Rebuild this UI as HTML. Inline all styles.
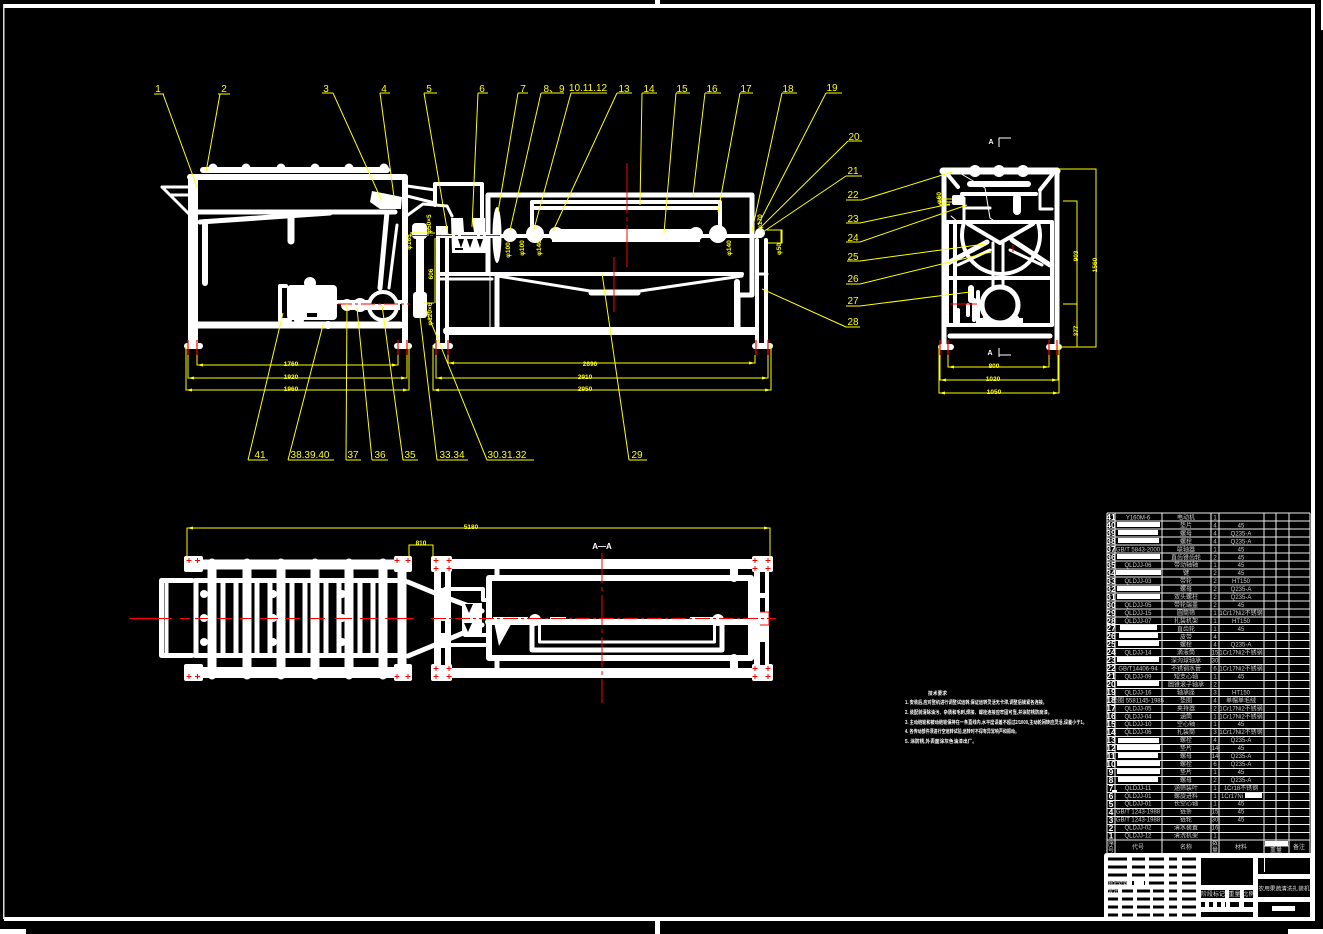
<!DOCTYPE html>
<html><head><meta charset="utf-8"><style>
html,body{margin:0;padding:0;background:#000;width:1323px;height:934px;overflow:hidden}
svg{display:block}
text{font-family:"Liberation Sans","Noto Sans CJK SC",sans-serif}
.w{stroke:#fff;fill:none;stroke-linecap:round;stroke-linejoin:round}
.y{stroke:#ff0;fill:none;stroke-width:1}
.r{stroke:#f00;fill:none;stroke-width:1}
.l text{fill:#ff0;font-size:10px;text-anchor:middle}
.d text{fill:#ff0;font-size:6.5px;font-weight:bold;text-anchor:middle}
.t text{fill:#ccc;font-size:6px;text-anchor:middle}
.n text{fill:#fff;font-size:8.5px;font-weight:bold;text-anchor:middle}
</style></head><body>
<svg width="1323" height="934" viewBox="0 0 1323 934" xmlns="http://www.w3.org/2000/svg">
<rect width="1323" height="934" fill="#000"/>
<!-- sheet border -->
<path d="M4 6H1313V919H4" fill="none" stroke="#fff" stroke-width="4"/>
<rect x="3" y="4" width="1.5" height="915" fill="#ddd"/>
<rect x="655" y="0" width="5" height="6" fill="#fff"/>
<rect x="655" y="921" width="5" height="13" fill="#fff"/>
<rect x="0" y="929" width="26" height="5" fill="#fff"/>
<rect x="1288" y="929" width="35" height="5" fill="#fff"/>
<rect x="1321" y="0" width="2" height="30" fill="#fff"/>

<!-- LEFT FRONT VIEW -->
<g class="w" stroke-width="5">
<path d="M193 178V345" stroke-width="10" stroke-linecap="butt"/>
<path d="M190 177H405V345" stroke-width="6"/>
<path d="M203 170H387" stroke-width="6"/>
<path d="M162 187H190M162 187L172 197L190 215M170 195H190" stroke-width="3"/>
<path d="M196 212H395" stroke-width="5"/>
<path d="M200 222L330 213" stroke-width="5"/>
<path d="M205 222V283" stroke-width="6"/>
<path d="M291 213V241" stroke-width="7"/>
<path d="M196 325H400" stroke-width="7"/>
<path d="M387 212L380 288" stroke-width="5"/>
<path d="M397 225L389 288" stroke-width="3"/>
<path d="M286 286H280V320H290" stroke-width="4"/>
<path d="M407 186L435 190M407 196L435 203M405 217L423 204L447 206L452 216" stroke-width="3"/>
<path d="M403 230V330" stroke-width="1.5"/>
<path d="M420 238V295" stroke-width="8" stroke-linecap="butt"/>
</g>
<g fill="#fff">
<circle cx="213" cy="168" r="4.5"/><circle cx="246" cy="168" r="4.5"/><circle cx="281" cy="168" r="4.5"/><circle cx="315" cy="168" r="4.5"/><circle cx="349" cy="168" r="4.5"/><circle cx="384" cy="168" r="4.5"/>
<rect x="287" y="285" width="50" height="35" rx="4"/>
<circle cx="310" cy="283" r="6"/><circle cx="299" cy="320" r="5"/><circle cx="328" cy="325" r="4"/>
<circle cx="347" cy="305" r="6"/><circle cx="360" cy="305" r="7"/>
<rect x="335" y="300" width="70" height="4"/>
<rect x="345" y="305" width="50" height="5"/>
<path d="M372 191L402 197L401 209L380 209L370 202Z"/>
<rect x="184" y="343" width="19" height="6" rx="3"/>
<rect x="394" y="343" width="18" height="6" rx="3"/>
<rect x="412" y="223" width="15" height="16" rx="4"/>
<rect x="413" y="292" width="14" height="26" rx="3"/>
</g>
<circle cx="383" cy="306" r="14" fill="#000" stroke="#fff" stroke-width="4"/>
<rect x="365" y="304" width="35" height="6" fill="#fff"/>
<rect x="307" y="313" width="10" height="4" fill="#000"/>

<!-- RIGHT FRONT VIEW -->
<g class="w">
<path d="M488 273V195H752V295H738V330" stroke-width="5"/>
<path d="M532 232V202H720V232" stroke-width="4"/>
<path d="M532 208H720" stroke-width="4"/>
<path d="M435 205V184H482V222" stroke-width="4"/>
<path d="M438 235V345M447 235V345" stroke-width="4"/>
<path d="M757 240V345M766 240V345" stroke-width="4"/>
<path d="M447 331H755" stroke-width="8"/>
<path d="M440 274H742" stroke-width="4"/>
<path d="M440 279H492M757 274H767" stroke-width="3"/>
<path d="M498 276L590 291H640L742 276" stroke-width="3"/>
<path d="M591 293H638" stroke-width="5"/>
<path d="M497 276V330" stroke-width="5"/>
<path d="M737 282V330" stroke-width="6"/>
<path d="M490 276V330" stroke-width="1"/>
<path d="M441 236H760" stroke-width="4"/>
</g>
<g fill="#fff">
<path d="M451 218H463L464 232H487V253H452Z"/>
<path d="M472 218H485V232H474Z"/>
<rect x="552" y="229" width="148" height="13"/>
<circle cx="535" cy="234" r="9"/><circle cx="718" cy="234" r="9"/>
<circle cx="556" cy="234" r="7"/><circle cx="696" cy="234" r="7"/>
<ellipse cx="497" cy="235" rx="4.5" ry="28"/>
<circle cx="510" cy="235" r="7"/>
<circle cx="760" cy="233" r="5"/>
<rect x="433" y="343" width="20" height="6" rx="3"/>
<rect x="752" y="343" width="21" height="6" rx="3"/>
<rect x="436" y="226" width="12" height="8"/>
</g>
<g fill="#000">
<path d="M458 239H464L461 248ZM467 239H473L470 248ZM477 239H483L480 248Z"/>
<rect x="455" y="248" width="8" height="2"/>
</g>

<!-- SIDE VIEW -->
<g class="w">
<path d="M944 170V345M1057 170V345" stroke-width="5"/>
<path d="M943 171H1057" stroke-width="7"/>
<path d="M950 336H1050" stroke-width="5"/>
<path d="M947 222H1052V325H947Z" stroke-width="4"/>
<path d="M947 278H1052" stroke-width="4"/>
<path d="M970 184H1028" stroke-width="6"/>
<path d="M948 175L958 187M1052 175L1040 190" stroke-width="4"/>
<path d="M962 194H1036" stroke-width="4"/>
<path d="M964 198V222M964 208H990" stroke-width="3"/>
<path d="M1017 198V211" stroke-width="8"/>
<path d="M1040 190V209H1052" stroke-width="3"/>
<path d="M958 172L985 188L990 218L993 220" stroke-width="1"/>
<path d="M963.600 224A39 39 0 1 0 1038.400 224" stroke-width="4"/>
<path d="M968 224L1000 243L1033 224" stroke-width="4"/>
<path d="M948 263L987 242M1050 265L1012 240" stroke-width="5"/>
<path d="M958 265L990 250M1042 265L1010 250" stroke-width="3"/>
<path d="M993 243V290M1003 243V290" stroke-width="3"/>
<path d="M955 225V322" stroke-width="4"/>
<path d="M971 288V300" stroke-width="6"/>
<path d="M968 305V315M974 300V320M958 310V322M978 292V324" stroke-width="4"/>
<path d="M951 216L958 222" stroke-width="1"/>
</g>
<g fill="#fff">
<circle cx="975" cy="171" r="6"/><circle cx="999" cy="171" r="6"/><circle cx="1023" cy="171" r="6"/>
<rect x="938" y="344" width="16" height="6" rx="3"/>
<rect x="1046" y="344" width="16" height="6" rx="3"/>
<rect x="952" y="195" width="12" height="10" rx="2"/>
<rect x="978" y="318" width="45" height="6"/>
<path d="M984 316L1018 316L1024 324H978Z"/>
</g>
<circle cx="1000" cy="305" r="18" fill="#000" stroke="#fff" stroke-width="5"/>

<!-- PLAN LEFT -->
<g class="w">
<path d="M190 564.500H405" stroke-width="10" stroke-linecap="butt"/>
<path d="M190 672.500H405" stroke-width="11" stroke-linecap="butt"/>
<path d="M195 580.500H405" stroke-width="5"/>
<path d="M195 655.500H405" stroke-width="5"/>
<path d="M192 580.500H161.500V655.500H192" stroke-width="5"/>
<path d="M166.500 582V654" stroke-width="4"/>
<path d="M212 563V675M247 563V675M281 563V675M315 563V675M349 563V675M383 563V675" stroke-width="9"/>
<path d="M196 582V654M223 582V654M236 582V654M257 582V654M270 582V654M292 582V654M305 582V654M326 582V654M339 582V654M360 582V654M373 582V654" stroke-width="5"/>
<path d="M402 566V672" stroke-width="9" stroke-linecap="butt"/>
<path d="M408 582L442 596L482 611M408 656L442 642L482 625" stroke-width="5"/>
</g>
<g fill="#fff">
<circle cx="204" cy="594" r="4"/><circle cx="204" cy="618" r="4"/><circle cx="204" cy="642" r="4"/>
<circle cx="273" cy="594" r="4"/><circle cx="273" cy="618" r="4"/><circle cx="273" cy="642" r="4"/>
<circle cx="342" cy="594" r="4"/><circle cx="342" cy="618" r="4"/><circle cx="342" cy="642" r="4"/>
<rect x="184" y="556" width="19" height="16" rx="2"/><rect x="184" y="664" width="19" height="17" rx="2"/>
<rect x="394" y="556" width="18" height="16" rx="2"/><rect x="394" y="664" width="18" height="17" rx="2"/>
<rect x="431" y="556" width="21" height="16" rx="2"/><rect x="431" y="664" width="21" height="17" rx="2"/>
<rect x="752" y="556" width="21" height="16" rx="2"/><rect x="752" y="664" width="21" height="17" rx="2"/>
<rect x="434" y="570" width="17" height="96"/>
<rect x="754" y="570" width="15" height="96"/>
</g>
<g fill="#000">
<rect x="441" y="572" width="4" height="16"/><rect x="441" y="621" width="4" height="12"/><rect x="441" y="648" width="4" height="17"/>
<rect x="760" y="572" width="5" height="21"/><rect x="760" y="598" width="5" height="14"/><rect x="760" y="642" width="5" height="23"/>
</g>
<!-- PLAN RIGHT -->
<g class="w">
<path d="M450 564H755" stroke-width="10" stroke-linecap="butt"/>
<path d="M450 673H755" stroke-width="10" stroke-linecap="butt"/>
<path d="M489 578H751V658H489Z" stroke-width="6"/>
<path d="M497 566V578M497 658V670" stroke-width="5"/>
<path d="M734 566V578M734 658V670" stroke-width="8"/>
<path d="M488 622H758" stroke-width="6"/>
<path d="M532 622V650H722V622" stroke-width="5"/>
<path d="M539.500 622V642H714.500V622" stroke-width="3"/>
<path d="M445 589H483V600H489M465 635H488M445 645H488" stroke-width="4"/>
</g>
<path d="M462 603H482V633H462Z" fill="#fff"/>
<path d="M465 604H473L469 613ZM464 623H472L468 632Z" fill="#000"/>
<g fill="#fff">
<path d="M493 617H515L499 646Z"/>
<circle cx="535" cy="620" r="6"/><circle cx="718" cy="620" r="6"/>
<rect x="508" y="617" width="20" height="5"/>
<rect x="550" y="617" width="16" height="5"/>
<rect x="690" y="617" width="30" height="5"/>
</g>
<path d="M760 612H769V625H760" fill="none" stroke="#f00" stroke-width="1"/>

<!-- RED -->
<g class="r" stroke-width="1">
<path d="M129 618.500H172M180 618.500H190M195 618.500H208M217 618.500H232M240 618.500H252M260 618.500H278M285 618.500H300M310 618.500H325M335 618.500H352M360 618.500H378M385 618.500H414"/>
<path d="M431 618.500H776" stroke-dasharray="15 3 3 3"/>
<path d="M602 553V703" stroke-dasharray="30 4 4 4"/>
<path d="M627 163V267" stroke-dasharray="50 4 4 4"/>
<path d="M614 257V312"/>
<path d="M338 304H410" stroke-dasharray="14 3 3 3"/>
<path d="M411 235.500H500" stroke-dasharray="16 3 3 3"/>
<path d="M188 340V355M197 340V355M398 340V355M407 340V355M436 340V355M448 340V355M756 340V355M768 340V355M940 340V355M948 340V355M1049 340V355M1057 340V355" stroke-width="1.200"/>
<path d="M950 304H977M1013 245V252"/>
<path d="M189 558V563M186.500 560.500H191.500M197.500 558V563M195 560.500H200M397 558V563M394.500 560.500H399.500M408 558V563M405.500 560.500H410.500M189 674V679M186.500 676.500H191.500M197.500 674V679M195 676.500H200M397 674V679M394.500 676.500H399.500M408 674V679M405.500 676.500H410.500M436 558V563M433.500 560.500H438.500M449 558V563M446.500 560.500H451.500M436 566V571M433.500 568.500H438.500M449 566V571M446.500 568.500H451.500M436 666V671M433.500 668.500H438.500M449 666V671M446.500 668.500H451.500M436 674V679M433.500 676.500H438.500M449 674V679M446.500 676.500H451.500M755 558V563M752.500 560.500H757.500M768 558V563M765.500 560.500H770.500M755 566V571M752.500 568.500H757.500M768 566V571M765.500 568.500H770.500M755 666V671M752.500 668.500H757.500M768 666V671M765.500 668.500H770.500M755 674V679M752.500 676.500H757.500M768 674V679M765.500 676.500H770.500"/>
</g>

<!-- YELLOW LEADERS -->
<g class="y">
<path d="M154 94H164M163 94L197 187"/>
<path d="M218 94H230M220 94L206 172"/>
<path d="M322 93H333M333 93L381 199"/>
<path d="M380 93H390M380 93L394 197"/>
<path d="M424 93H437M424 93L448 235"/>
<path d="M478 93H488M478 93L472 227"/>
<path d="M518 93H528M518 93L498 212"/>
<path d="M541 93H564M541 93L510 230"/>
<path d="M571 93H607M571 93L534 229"/>
<path d="M617 93H632M617 93L553 231"/>
<path d="M642 93H657M642 93L640 205"/>
<path d="M676 93H690M676 93L664 233"/>
<path d="M705 93H721M705 93L693 195"/>
<path d="M740 93H753M740 93L718 212"/>
<path d="M782 93H797M782 93L752 231"/>
<path d="M826 93H842M826 93L758 225"/>
<path d="M848 141H862M848 141L760 228"/>
<path d="M846 176H862M846 176L763 232"/>
<path d="M846 200H862M862 200L952 172"/>
<path d="M846 223H860M860 223L950 204"/>
<path d="M846 242H860M860 242L967 205"/>
<path d="M847 261H860M860 261L985 244"/>
<path d="M846 284H860M860 284L991 252"/>
<path d="M846 306H860M860 306L970 292"/>
<path d="M846 327H860M846 327L762 289"/>
<path d="M248 460H268M248 460L283 313"/>
<path d="M288 460H334M288 460L323 325"/>
<path d="M346 460H361M346 460L347 304"/>
<path d="M372 460H388M372 460L357 308"/>
<path d="M403 460H418M403 460L382 305"/>
<path d="M437 460H468M437 460L420 317"/>
<path d="M487 460H534M487 460L426 310"/>
<path d="M629 460H647M629 460L602 273"/>
<!-- dims -->
<path d="M197 355V365H398V355M188 355V378H407V355M186 345V390H409V345"/>
<path d="M448 355V363H755V355M436 355V378H768V355M433 345V390H771V345"/>
<path d="M948 355V367H1049V355M940 355V380H1058V355M939 345V393H1059V345"/>
<path d="M1058 169H1096V347H1060M1063 201H1077V347M1063 304H1077"/>
<path d="M187 557V528H770V557M409 557V545H433V557"/>
<path d="M411 233H435M411 236V232M428 236V228M424 303H434M435 238V303"/>
<path d="M767 230H782V243H768M781 230V243"/>
<path d="M940 199V205H950M940 205V197M941 199H952M941 202H952"/>
</g>
<path d="M197 365l6-1.500v3zM398 365l-6-1.500v3zM188 378l6-1.500v3zM407 378l-6-1.500v3zM186 390l6-1.500v3zM409 390l-6-1.500v3zM448 363l6-1.500v3zM755 363l-6-1.500v3zM436 378l6-1.500v3zM768 378l-6-1.500v3zM433 390l6-1.500v3zM771 390l-6-1.500v3zM948 367l6-1.500v3zM1049 367l-6-1.500v3zM940 380l6-1.500v3zM1058 380l-6-1.500v3zM939 393l6-1.500v3zM1059 393l-6-1.500v3zM187 528l6-1.500v3zM770 528l-6-1.500v3z" fill="#ff0"/>
<g class="l">
<text x="158" y="92">1</text><text x="224" y="92">2</text><text x="326" y="92">3</text><text x="384" y="92">4</text><text x="429" y="92">5</text><text x="482" y="92">6</text><text x="523" y="92">7</text><text x="554" y="92">8、9</text><text x="588" y="91" font-size="9.5">10.11.12</text><text x="624" y="92">13</text><text x="649" y="92">14</text><text x="682" y="92">15</text><text x="712" y="92">16</text><text x="746" y="92">17</text><text x="788" y="92">18</text><text x="832" y="91">19</text>
<text x="854" y="140">20</text><text x="853" y="174">21</text><text x="853" y="198">22</text><text x="853" y="222">23</text><text x="853" y="241">24</text><text x="853" y="260">25</text><text x="853" y="282">26</text><text x="853" y="304">27</text><text x="853" y="325">28</text>
<text x="260" y="458">41</text><text x="310" y="458">38.39.40</text><text x="353" y="458">37</text><text x="380" y="458">36</text><text x="410" y="458">35</text><text x="452" y="458">33.34</text><text x="507" y="458">30.31.32</text><text x="637" y="458">29</text>
</g>
<g class="d">
<text x="291" y="366">1760</text><text x="291" y="379">1920</text><text x="291" y="391">1960</text>
<text x="590" y="366">2690</text><text x="585" y="379">2910</text><text x="585" y="391">2950</text>
<text x="994" y="368">800</text><text x="993" y="381">1020</text><text x="994" y="394">1050</text>
<text x="471" y="529">5180</text><text x="421" y="545">810</text>
<text transform="translate(1097,265) rotate(-90)">1560</text>
<text transform="translate(1078,256) rotate(-90)">903</text>
<text transform="translate(1078,331) rotate(-90)">377</text>
<text transform="translate(433,274) rotate(-90)" font-size="6">606</text>
<text transform="translate(411,242) rotate(-90)" font-size="5">φ165</text>
<text transform="translate(431,224) rotate(-90)" font-size="5">φ50×5</text>
<text transform="translate(432,314) rotate(-90)" font-size="5">φ120×6</text>
<text transform="translate(510,250) rotate(-90)" font-size="5">φ100</text>
<text transform="translate(524,248) rotate(-90)" font-size="5">φ100</text>
<text transform="translate(541,248) rotate(-90)" font-size="5">φ140</text>
<text transform="translate(731,248) rotate(-90)" font-size="5">φ140</text>
<text transform="translate(762,222) rotate(-90)" font-size="5">φ170</text>
<text transform="translate(781,249) rotate(-90)" font-size="5">φ50</text>
<text transform="translate(941,198) rotate(-90)" font-size="5">φ60</text>
</g>
<g fill="#fff" font-size="7" font-weight="bold" text-anchor="middle">
<text x="991" y="144">A</text><text x="990" y="355">A</text><text x="602" y="549" font-size="8">A—A</text>
</g>
<path d="M999 147V138H1011M999 357V348M999 355H1011" stroke="#fff" fill="none"/>

<!-- NOTES -->
<g fill="#fff" font-size="5.3" font-weight="bold">
<text x="928" y="695" textLength="19" lengthAdjust="spacingAndGlyphs">技术要求</text>
<text x="905" y="704" textLength="142" lengthAdjust="spacingAndGlyphs">1. 安装后,应对整机进行调整试运转,保证运转灵活无卡滞,调整后锁紧各连接。</text>
<text x="905" y="714" textLength="147" lengthAdjust="spacingAndGlyphs">2. 装配前清除油污、杂质和毛刺,焊接、螺栓连接应牢固可靠,并涂防锈防腐漆。</text>
<text x="905" y="724" textLength="182" lengthAdjust="spacingAndGlyphs">3. 主动链轮和被动链轮保持在一条直线内,水平度误差不超过2/1000,主动轮回转应灵活,误差小于1。</text>
<text x="905" y="733" textLength="114" lengthAdjust="spacingAndGlyphs">4. 各传动部件须进行空运转试验,运转时不得有异常响声和振动。</text>
<text x="905" y="743" textLength="72" lengthAdjust="spacingAndGlyphs">5. 涂防锈,外表面涂灰色油漆出厂。</text>
</g>

<!-- PARTS TABLE -->
<path d="M1107 513H1310M1107 521H1310M1107 529H1310M1107 537H1310M1107 545H1310M1107 553H1310M1107 561H1310M1107 569H1310M1107 577H1310M1107 585H1310M1107 593H1310M1107 601H1310M1107 609H1310M1107 617H1310M1107 624.500H1310M1107 632.500H1310M1107 640.500H1310M1107 648.500H1310M1107 656.500H1310M1107 664.500H1310M1107 672.500H1310M1107 680.500H1310M1107 688.500H1310M1107 696.500H1310M1107 704.500H1310M1107 712.500H1310M1107 720.500H1310M1107 728.500H1310M1107 736.500H1310M1107 744.500H1310M1107 752.500H1310M1107 760.500H1310M1107 768.500H1310M1107 776.500H1310M1107 784.500H1310M1107 792.500H1310M1107 800.500H1310M1107 808.500H1310M1107 816.500H1310M1107 824.500H1310M1107 832.500H1310M1107 840H1310" stroke="#eee" stroke-width="1" fill="none"/>
<path d="M1107 513V853M1115 513V853M1162 513V853M1211 513V853M1219 513V853M1264 513V853M1276 513V846M1289 513V853M1310 513V853M1264 846H1289" stroke="#eee" stroke-width="1" fill="none"/>
<g fill="#fff">
<rect x="1117" y="522" width="43" height="5"/><rect x="1118" y="530" width="40" height="5"/><rect x="1118" y="538" width="41" height="5"/>
<rect x="1117" y="554" width="43" height="5"/><rect x="1116" y="570" width="45" height="5"/><rect x="1117" y="586" width="43" height="5"/><rect x="1117" y="594" width="43" height="5"/>
<rect x="1120" y="625" width="37" height="5"/><rect x="1119" y="633" width="39" height="5"/><rect x="1118" y="641" width="41" height="5"/><rect x="1117" y="657" width="42" height="5"/><rect x="1117" y="681" width="42" height="5"/>
<rect x="1118" y="738" width="41" height="5"/><rect x="1117" y="745" width="43" height="5"/><rect x="1118" y="753" width="40" height="5"/><rect x="1117" y="761" width="43" height="5"/><rect x="1117" y="769" width="43" height="5"/><rect x="1118" y="777" width="40" height="5"/>
<rect x="1245" y="793" width="17" height="5"/>
<rect x="1265" y="841" width="23" height="5"/>
<rect x="1112" y="790" width="5" height="2"/>
</g>
<g class="n"><g transform="translate(1111,0)">
<text y="520">41</text><text y="528">40</text><text y="536">39</text><text y="544">38</text><text y="552">37</text><text y="560">36</text><text y="568">35</text><text y="576">34</text><text y="584">33</text><text y="592">32</text><text y="600">31</text><text y="608">30</text><text y="616">29</text><text y="624">28</text><text y="631">27</text><text y="639">26</text><text y="647">25</text><text y="655">24</text><text y="663">23</text><text y="671">22</text><text y="679">21</text><text y="687">20</text><text y="695">19</text><text y="703">18</text><text y="711">17</text><text y="719">16</text><text y="727">15</text><text y="735">14</text><text y="743">13</text><text y="751">12</text><text y="759">11</text><text y="767">10</text><text y="775">9</text><text y="783">8</text><text y="791">7</text><text y="799">6</text><text y="807">5</text><text y="815">4</text><text y="823">3</text><text y="831">2</text><text y="838.500">1</text>
</g></g>
<g class="t">
<g transform="translate(1138,0)">
<text y="519.500">Y160M-6</text><text y="551.300" font-size="5">GB/T 5843-2000</text><text y="567.200">QLDJJ-06</text><text y="583.100">QLDJJ-03</text><text y="607">QLDJJ-05</text><text y="614.900">QLDJJ-15</text><text y="622.900">QLDJJ-07</text><text y="654.700">QLDJJ-14</text><text y="670.600" font-size="5">GB/T14406-94</text><text y="678.500">QLDJJ-09</text><text y="694.400">QLDJJ-16</text><text y="702.400" font-size="5">垫圈 5581145-1985</text><text y="710.300">QLDJJ-05</text><text y="718.300">QLDJJ-04</text><text y="726.200">QLDJJ-10</text><text y="734.200">QLDJJ-06</text><text y="789.800">QLDJJ-11</text><text y="797.800">QLDJJ-01</text><text y="805.700">QLDJJ-01</text><text y="813.700" font-size="5">GB/T 1243-1988</text><text y="821.600" font-size="5">GB/T 1243-1988</text><text y="829.600">QLDJJ-02</text><text y="837.500">QLDJJ-12</text>
<text y="849">代号</text>
</g>
<g transform="translate(1186,0)">
<text y="519.500">电动机</text><text y="527.500">垫片</text><text y="535.400">螺母</text><text y="543.400">螺栓</text><text y="551.300">联轴器</text><text y="559.300">直齿锥齿轮</text><text y="567.200">带动轴轴</text><text y="575.200">键</text><text y="583.100">带轮</text><text y="591.100">螺母</text><text y="599">双头螺柱</text><text y="607">带轮端盖</text><text y="614.900">圆筒筛</text><text y="622.900">扎装机架</text><text y="630.800">直齿轮</text><text y="638.800">皮带</text><text y="646.700">螺栓</text><text y="654.700">滴液筒</text><text y="662.600">深沟球轴承</text><text y="670.600">不锈钢水管</text><text y="678.500">短支心轴</text><text y="686.500">圆锥滚子轴承</text><text y="694.400">轴承座</text><text y="702.400">垫圈</text><text y="710.300">夹持器</text><text y="718.300">涵筒</text><text y="726.200">空心轴</text><text y="734.200">扎装筒</text><text y="742.100">螺栓</text><text y="750.100">垫片</text><text y="758">螺母</text><text y="766">螺栓</text><text y="773.900">垫片</text><text y="781.900">螺母</text><text y="789.800">涵筛装叶</text><text y="797.800">螺旋进料</text><text y="805.700">长空心轴</text><text y="813.700">链条</text><text y="821.600">链轮</text><text y="829.600">清水装置</text><text y="837.500">清洗机架</text>
<text y="849">名称</text>
</g>
<g transform="translate(1215,0)">
<text y="519.500">1</text><text y="527.500">4</text><text y="535.400">4</text><text y="543.400">4</text><text y="551.300">1</text><text y="559.300">2</text><text y="567.200">1</text><text y="575.200">2</text><text y="583.100">2</text><text y="591.100">2</text><text y="599">2</text><text y="607">2</text><text y="614.900">1</text><text y="622.900">1</text><text y="630.800">1</text><text y="638.800">4</text><text y="646.700">4</text><text y="654.700">15</text><text y="662.600">30</text><text y="670.600">6</text><text y="678.500">1</text><text y="686.500">2</text><text y="694.400">3</text><text y="702.400">4</text><text y="710.300">2</text><text y="718.300">1</text><text y="726.200">1</text><text y="734.200">3</text><text y="742.100">4</text><text y="750.100">14</text><text y="758">14</text><text y="766">6</text><text y="773.900">1</text><text y="781.900">2</text><text y="789.800">1</text><text y="797.800">1</text><text y="805.700">1</text><text y="813.700">15</text><text y="821.600">30</text><text y="829.600">16</text><text y="837.500">1</text>
<text y="845">数</text><text y="852">量</text>
</g>
<g transform="translate(1241,0)">
<text y="527.500">45</text><text y="535.400">Q235-A</text><text y="543.400">Q235-A</text><text y="551.300">45</text><text y="559.300">45</text><text y="567.200">45</text><text y="575.200">45</text><text y="583.100">HT150</text><text y="591.100">Q235-A</text><text y="599">Q235-A</text><text y="607">45</text><text y="614.900">1Cr17Ni2不锈钢</text><text y="622.900">HT150</text><text y="630.800">45</text><text y="646.700">Q235-A</text><text y="654.700">1Cr17Ni2不锈钢</text><text y="670.600">1Cr17Ni2不锈钢</text><text y="678.500">45</text><text y="694.400">HT150</text><text y="702.400">单帽单毛绒</text><text y="710.300">1Cr17Ni2不锈钢</text><text y="718.300">1Cr17Ni2不锈钢</text><text y="726.200">45</text><text y="734.200">1Cr17Ni2不锈钢</text><text y="742.100">Q235-A</text><text y="750.100">45</text><text y="758">Q235-A</text><text y="766">Q235-A</text><text y="773.900">45</text><text y="781.900">Q235-A</text><text y="789.800">1Cr18不锈钢</text><text y="797.800" x="-9">1Cr17Ni</text><text y="805.700">45</text><text y="813.700">45</text><text y="821.600">45</text>
<text y="849">材料</text>
</g>
<text x="1111" y="846">序</text><text x="1111" y="852">号</text>
<text x="1276" y="852">重量</text><text x="1299" y="849">备注</text>
</g>

<!-- TITLE BLOCK -->
<path d="M1107 853H1313Q1315 853 1315 855V918Q1315 921 1312 921H1107Q1104 921 1104 918V856Q1104 853 1107 853Z" fill="#fff"/>
<g fill="#000">
<path d="M1108 857.500H1127V860.500H1108ZM1132 857.500H1145V860.500H1132ZM1149 857.500H1164V860.500H1149ZM1169 857.500H1177V860.500H1169ZM1182 857.500H1196V860.500H1182Z"/>
<path d="M1108 865.500H1127V868.500H1108ZM1132 865.500H1145V868.500H1132ZM1149 865.500H1164V868.500H1149ZM1169 865.500H1177V868.500H1169ZM1182 865.500H1196V868.500H1182Z"/>
<path d="M1108 873.500H1127V876.500H1108ZM1132 873.500H1145V876.500H1132ZM1149 873.500H1164V876.500H1149ZM1169 873.500H1177V876.500H1169ZM1182 873.500H1196V876.500H1182Z"/>
<path d="M1108 881.500H1127V884.500H1108ZM1149 881.500H1164V884.500H1149ZM1169 881.500H1177V884.500H1169ZM1182 881.500H1196V884.500H1182ZM1132 881H1134V885H1132ZM1144 881H1145V885H1144Z"/>
<path d="M1108 889.500H1118V892.500H1108ZM1122 889.500H1133V892.500H1122ZM1137 889.500H1150V892.500H1137ZM1153 889.500H1164V892.500H1153ZM1169 889.500H1177V892.500H1169ZM1182 889.500H1196V892.500H1182Z"/>
<path d="M1108 897.500H1118V900.500H1108ZM1122 897.500H1133V900.500H1122ZM1137 897.500H1150V900.500H1137ZM1153 897.500H1164V900.500H1153ZM1169 897.500H1177V900.500H1169ZM1182 897.500H1196V900.500H1182Z"/>
<path d="M1108 905.500H1118V908.500H1108ZM1122 905.500H1133V908.500H1122ZM1137 905.500H1150V908.500H1137ZM1153 905.500H1164V908.500H1153ZM1169 905.500H1177V908.500H1169ZM1182 905.500H1196V908.500H1182Z"/>
<path d="M1108 913.500H1118V916.500H1108ZM1122 913.500H1133V916.500H1122ZM1137 913.500H1150V916.500H1137ZM1153 913.500H1164V916.500H1153ZM1169 913.500H1177V916.500H1169ZM1182 913.500H1196V916.500H1182Z"/>
<rect x="1201" y="858" width="52" height="27"/>
<rect x="1201" y="890" width="24" height="8"/><rect x="1229" y="890" width="11" height="8"/><rect x="1244" y="890" width="9" height="8"/>
<rect x="1201" y="902" width="4" height="5"/><rect x="1209" y="902" width="4" height="5"/><rect x="1217" y="902" width="4" height="5"/><rect x="1225" y="902" width="1" height="5"/><rect x="1230" y="902" width="9" height="5"/><rect x="1244" y="902" width="9" height="5"/>
<rect x="1201" y="912" width="52" height="5"/>
<rect x="1258" y="858" width="52" height="16"/>
<rect x="1258" y="879" width="52" height="18"/>
<rect x="1258" y="902" width="52" height="15"/>
</g>
<rect x="1264" y="858" width="1" height="14" fill="#fff"/>
<rect x="1272" y="906" width="23" height="5" fill="#fff"/>
<g fill="#ddd" font-size="6" text-anchor="middle">
<text x="1213" y="896">阶段标记</text><text x="1234.500" y="896">重量</text><text x="1248.500" y="896">比例</text>
<text x="1284" y="890.500" font-size="5.700">农用果蔬清洗扎装机</text>
<text x="1118" y="884.500" font-size="5">标记处数</text>
<text x="1113" y="892.500" font-size="5">设计</text>
</g>
</svg>
</body></html>
